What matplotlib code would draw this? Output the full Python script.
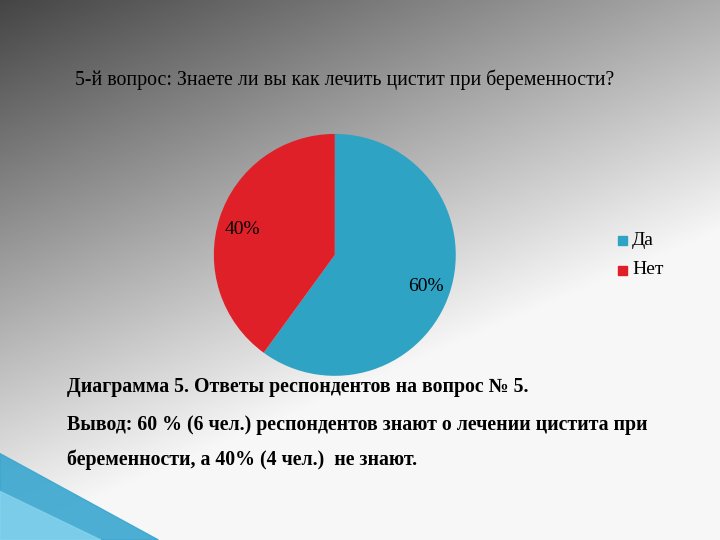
import matplotlib
matplotlib.use("Agg")
import matplotlib.pyplot as plt
import numpy as np

labels = ["Да", "Нет"]
values = [60, 40]
colors = ["#2fa3c3", "#df2029"]
pct_labels = ["60%", "40%"]

plt.rcParams['font.family'] = ['Liberation Serif', 'DejaVu Serif']
fig = plt.figure(figsize=(7.2, 5.4), dpi=100)

# background gradient
bg = fig.add_axes([0, 0, 1, 1])
yy, xx = np.mgrid[0:1:300j, 0:1:400j]
v = 0.27 + 0.40 * xx + 0.70 * yy
v = np.clip(v, 0, 0.97)
bg.imshow(np.dstack([v, v, v]), extent=[0, 1, 0, 1], origin='upper', aspect='auto')
bg.set_xlim(0, 1); bg.set_ylim(0, 1); bg.axis('off')
# decorative blue shape bottom-left
bg.fill([0, 0, 0.22, 0.05], [0.0, 0.16, 0.0, 0.0], color="#3aa6d0", alpha=0.9)
bg.fill([0, 0, 0.14], [0.0, 0.09, 0.0], color="#86d4ef", alpha=0.8)

fig.text(0.104, 0.852, "5-й вопрос: Знаете ли вы как лечить цистит при беременности?",
         fontsize=14.3, color="black", va='center')

ax = fig.add_axes([0.297, 0.304, 0.336, 0.448])
wedges, _ = ax.pie(values, colors=colors, startangle=90, counterclock=False)
ax.set_xlim(-1, 1); ax.set_ylim(-1, 1)
ax.set_aspect('equal')
ax.text(0.75, -0.26, pct_labels[0], fontsize=14, ha='center', va='center')
ax.text(-0.76, 0.21, pct_labels[1], fontsize=14, ha='center', va='center')

for i, (lab, c) in enumerate(zip(labels, colors)):
    y = 0.555 - i * 0.055
    fig.patches.append(plt.Rectangle((0.858, y - 0.009), 0.013, 0.017, color=c,
                                     transform=fig.transFigure, figure=fig))
    fig.text(0.878, y, lab, fontsize=14, va='center')

fig.text(0.093, 0.283, "Диаграмма 5. Ответы респондентов на вопрос № 5.",
         fontsize=14.3, fontweight='bold', va='center')
fig.text(0.093, 0.213, "Вывод: 60 % (6 чел.) респондентов знают о лечении цистита при",
         fontsize=14.3, fontweight='bold', va='center')
fig.text(0.093, 0.148, "беременности, а 40% (4 чел.)  не знают.",
         fontsize=14.3, fontweight='bold', va='center')

fig.savefig("out.png", dpi=100)
